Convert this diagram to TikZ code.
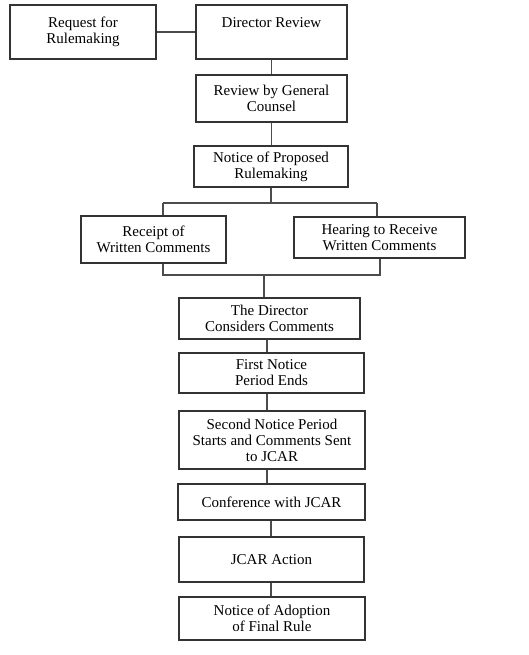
\documentclass[tikz,border=0pt]{standalone}
\usepackage{fontspec}
\setmainfont{Liberation Serif}
\begin{document}
\begin{tikzpicture}[x=1pt,y=-1pt,
  box/.style={draw=black!80,line width=1.2pt,rectangle,inner sep=0pt,align=center,
    font=\fontsize{15}{16}\selectfont},
  conn/.style={draw=black!70,line width=1.3pt}]
\useasboundingbox (0,0) rectangle (529,655);
\node[box,minimum width=146pt,minimum height=54pt] (req) at (83,32) {Request for\\Rulemaking};
\node[box,minimum width=151pt,minimum height=54pt,text height=10.5pt,text depth=18.5pt] (dir) at (271.5,32) {Director Review};
\node[box,minimum width=151pt,minimum height=47pt] (gc) at (271.5,98.5) {Review by General\\Counsel};
\node[box,minimum width=154pt,minimum height=41pt] (npr) at (271,166.5) {Notice of Proposed\\Rulemaking};
\node[box,minimum width=145pt,minimum height=47pt] (rec) at (153.5,239.5) {Receipt of\\Written Comments};
\node[box,minimum width=171pt,minimum height=41pt] (hear) at (379.5,237.5) {Hearing to Receive\\Written Comments};
\node[box,minimum width=181pt,minimum height=41pt] (dcc) at (269.5,318.5) {The Director\\Considers Comments};
\node[box,minimum width=185pt,minimum height=40pt] (fn) at (271.5,373) {First Notice\\Period Ends};
\node[box,minimum width=186pt,minimum height=58pt] (sn) at (272,440) {Second Notice Period\\Starts and Comments Sent\\to JCAR};
\node[box,minimum width=187pt,minimum height=36pt] (conf) at (271.5,502) {Conference with JCAR};
\node[box,minimum width=185pt,minimum height=45pt] (jcar) at (271.5,559.5) {JCAR Action};
\node[box,minimum width=186pt,minimum height=43pt] (adopt) at (272,618.5) {Notice of Adoption\\of Final Rule};
% junction points
\coordinate (jt) at (271,203);
\coordinate (jtl) at (163,203);
\coordinate (jtr) at (377,203);
\coordinate (jbl) at (163,275);
\coordinate (jbr) at (380,275);
\coordinate (jb) at (264,275);
% connectors
\draw[conn] (req.east) -- (dir.west);
\draw[conn] (dir.south) -- (gc.north);
\draw[conn] (gc.south) -- (gc.south |- npr.north);
\draw[conn] (npr.south) -- (jt);
\draw[conn] (jtl) -- (jtr);
\draw[conn] (jtl) -- (jtl |- rec.north);
\draw[conn] (jtr) -- (jtr |- hear.north);
\draw[conn] (jbl |- rec.south) -- (jbl) -- (jbr) -- (jbr |- hear.south);
\draw[conn] (jb) -- (jb |- dcc.north);
\draw[conn] ([xshift=-2.5pt]dcc.south) -- ([xshift=-2.5pt]dcc.south |- fn.north);
\draw[conn] ([xshift=-4.5pt]fn.south) -- ([xshift=-4.5pt]fn.south |- sn.north);
\draw[conn] ([xshift=-5pt]sn.south) -- ([xshift=-5pt]sn.south |- conf.north);
\draw[conn] ([xshift=-0.5pt]conf.south) -- ([xshift=-0.5pt]conf.south |- jcar.north);
\draw[conn] ([xshift=-0.5pt]jcar.south) -- ([xshift=-0.5pt]jcar.south |- adopt.north);
\end{tikzpicture}
\end{document}
